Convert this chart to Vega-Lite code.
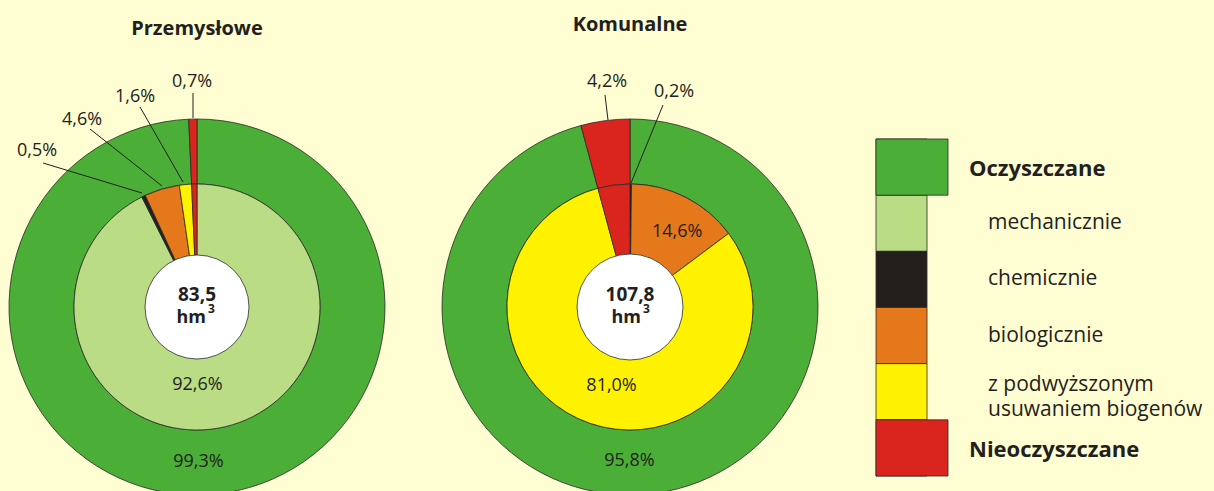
{
  "$schema": "https://vega.github.io/schema/vega-lite/v6.json",
  "background": "#FFFDD2",
  "padding": 0,
  "spacing": 0,
  "bounds": "flush",
  "config": {
    "view": {"stroke": null},
    "font": "Open Sans",
    "locale": {"number": {"decimal": ",", "thousands": " ", "grouping": [3], "currency": ["", " zł"]}}
  },
  "datasets": {
    "slices": [
      {"chart": "Przemysłowe", "ring": "outer", "category": "Oczyszczane", "value": 0.993, "ord": 1},
      {"chart": "Przemysłowe", "ring": "outer", "category": "Nieoczyszczane", "value": 0.007, "ord": 2},
      {"chart": "Przemysłowe", "ring": "inner", "category": "mechanicznie", "value": 0.926, "ord": 1},
      {"chart": "Przemysłowe", "ring": "inner", "category": "chemicznie", "value": 0.005, "ord": 2},
      {"chart": "Przemysłowe", "ring": "inner", "category": "biologicznie", "value": 0.046, "ord": 3},
      {"chart": "Przemysłowe", "ring": "inner", "category": "z podwyższonym usuwaniem biogenów", "value": 0.016, "ord": 4},
      {"chart": "Przemysłowe", "ring": "inner", "category": "Nieoczyszczane", "value": 0.007, "ord": 5},
      {"chart": "Komunalne", "ring": "outer", "category": "Oczyszczane", "value": 0.958, "ord": 1},
      {"chart": "Komunalne", "ring": "outer", "category": "Nieoczyszczane", "value": 0.042, "ord": 2},
      {"chart": "Komunalne", "ring": "inner", "category": "chemicznie", "value": 0.002, "ord": 2},
      {"chart": "Komunalne", "ring": "inner", "category": "biologicznie", "value": 0.146, "ord": 3},
      {"chart": "Komunalne", "ring": "inner", "category": "z podwyższonym usuwaniem biogenów", "value": 0.81, "ord": 4},
      {"chart": "Komunalne", "ring": "inner", "category": "Nieoczyszczane", "value": 0.042, "ord": 5}
    ],
    "centers": [
      {"chart": "Przemysłowe", "total": 83.5},
      {"chart": "Komunalne", "total": 107.8}
    ],
    "callouts": [
      {"chart": "Przemysłowe", "value": 0.007, "tx": -5, "ty": 225, "x1": -4, "y1": 214, "x2": -4, "y2": 189},
      {"chart": "Przemysłowe", "value": 0.016, "tx": -62, "ty": 210, "x1": -57, "y1": 200, "x2": -14, "y2": 125},
      {"chart": "Przemysłowe", "value": 0.046, "tx": -115, "ty": 187, "x1": -107, "y1": 178, "x2": -35, "y2": 121},
      {"chart": "Przemysłowe", "value": 0.005, "tx": -160, "ty": 156, "x1": -154, "y1": 144, "x2": -55, "y2": 114},
      {"chart": "Komunalne", "value": 0.042, "tx": -23, "ty": 225, "x1": -25, "y1": 212, "x2": -22, "y2": 187},
      {"chart": "Komunalne", "value": 0.002, "tx": 44, "ty": 215, "x1": 33, "y1": 202, "x2": 1, "y2": 124}
    ],
    "legend": [
      {"category": "Oczyszczane", "label": "Oczyszczane", "level": "main"},
      {"category": "mechanicznie", "label": "mechanicznie", "level": "sub"},
      {"category": "chemicznie", "label": "chemicznie", "level": "sub"},
      {"category": "biologicznie", "label": "biologicznie", "level": "sub"},
      {"category": "z podwyższonym usuwaniem biogenów", "label": "z podwyższonym\nusuwaniem biogenów", "level": "sub2"},
      {"category": "Nieoczyszczane", "label": "Nieoczyszczane", "level": "main"}
    ]
  },
  "hconcat": [
    {
      "width": 394,
      "height": 491,
      "layer": [
        {
          "data": {"name": "slices"},
          "transform": [{"filter": "datum.chart == 'Przemysłowe' && datum.ring == 'outer'"}],
          "mark": {"type": "arc", "innerRadius": 123, "outerRadius": 188, "stroke": "#2a2a2a", "strokeWidth": 0.8},
          "encoding": {
            "x": {"datum": 0, "type": "quantitative", "scale": {"domain": [-197, 197], "nice": false, "zero": false}, "axis": null},
            "y": {"datum": 0, "type": "quantitative", "scale": {"domain": [-184, 307], "nice": false, "zero": false}, "axis": null},
            "theta": {"field": "value", "type": "quantitative", "stack": true},
            "order": {"field": "ord"},
            "color": {"field": "category", "type": "nominal", "legend": null,
              "scale": {"domain": ["Oczyszczane", "mechanicznie", "chemicznie", "biologicznie", "z podwyższonym usuwaniem biogenów", "Nieoczyszczane"],
                        "range": ["#4BAE37", "#B9DC85", "#231F1D", "#E5781A", "#FFF200", "#DA251E"]}}
          }
        },
        {
          "data": {"name": "slices"},
          "transform": [{"filter": "datum.chart == 'Przemysłowe' && datum.ring == 'inner'"}],
          "mark": {"type": "arc", "innerRadius": 40, "outerRadius": 123, "stroke": "#2a2a2a", "strokeWidth": 0.8},
          "encoding": {
            "x": {"datum": 0, "type": "quantitative"},
            "y": {"datum": 0, "type": "quantitative"},
            "theta": {"field": "value", "type": "quantitative", "stack": true},
            "order": {"field": "ord"},
            "color": {"field": "category", "type": "nominal", "legend": null}
          }
        },
        {
          "data": {"name": "centers"},
          "transform": [{"filter": "datum.chart == 'Przemysłowe'"}],
          "mark": {"type": "arc", "innerRadius": 0, "outerRadius": 52, "theta": 0, "theta2": 6.2832, "fill": "#FFFFFF", "stroke": "#2a2a2a", "strokeWidth": 0.8},
          "encoding": {
            "x": {"datum": 0, "type": "quantitative"},
            "y": {"datum": 0, "type": "quantitative"}
          }
        },
        {
          "data": {"name": "slices"},
          "transform": [{"filter": "datum.chart == 'Przemysłowe' && datum.ring == 'outer'"}],
          "mark": {"type": "text", "radius": 155, "fontSize": 18, "fill": "#231F20", "dx": -2},
          "encoding": {
            "x": {"datum": 0, "type": "quantitative"},
            "y": {"datum": 0, "type": "quantitative"},
            "theta": {"field": "value", "type": "quantitative", "stack": true},
            "order": {"field": "ord"},
            "text": {"condition": {"test": "datum.value > 0.1", "field": "value", "type": "quantitative", "format": ".1%"}, "value": ""}
          }
        },
        {
          "data": {"name": "slices"},
          "transform": [{"filter": "datum.chart == 'Przemysłowe' && datum.ring == 'inner'"}],
          "mark": {"type": "text", "radius": 80, "fontSize": 18, "fill": "#231F20", "dx": -18},
          "encoding": {
            "x": {"datum": 0, "type": "quantitative"},
            "y": {"datum": 0, "type": "quantitative"},
            "theta": {"field": "value", "type": "quantitative", "stack": true},
            "order": {"field": "ord"},
            "text": {"condition": {"test": "datum.value > 0.1", "field": "value", "type": "quantitative", "format": ".1%"}, "value": ""}
          }
        },
        {
          "data": {"name": "callouts"},
          "transform": [{"filter": "datum.chart == 'Przemysłowe'"}],
          "mark": {"type": "rule", "stroke": "#231F20", "strokeWidth": 1},
          "encoding": {
            "x": {"field": "x1", "type": "quantitative"},
            "y": {"field": "y1", "type": "quantitative"},
            "x2": {"field": "x2"},
            "y2": {"field": "y2"}
          }
        },
        {
          "data": {"name": "callouts"},
          "transform": [{"filter": "datum.chart == 'Przemysłowe'"}],
          "mark": {"type": "text", "fontSize": 18, "fill": "#231F20", "baseline": "middle"},
          "encoding": {
            "x": {"field": "tx", "type": "quantitative"},
            "y": {"field": "ty", "type": "quantitative"},
            "text": {"field": "value", "type": "quantitative", "format": ".1%"}
          }
        },
        {
          "data": {"name": "centers"},
          "transform": [{"filter": "datum.chart == 'Przemysłowe'"}],
          "mark": {"type": "text", "fontSize": 20, "fontWeight": "bold", "fill": "#231F20", "baseline": "middle"},
          "encoding": {
            "x": {"datum": 0, "type": "quantitative"},
            "y": {"datum": 278, "type": "quantitative"},
            "text": {"field": "chart"}
          }
        },
        {
          "data": {"name": "centers"},
          "transform": [{"filter": "datum.chart == 'Przemysłowe'"}],
          "mark": {"type": "text", "fontSize": 19, "fontWeight": "bold", "fill": "#231F20", "baseline": "middle"},
          "encoding": {
            "x": {"datum": 0, "type": "quantitative"},
            "y": {"datum": 12.5, "type": "quantitative"},
            "text": {"field": "total", "type": "quantitative", "format": ".1f"}
          }
        },
        {
          "data": {"name": "centers"},
          "transform": [{"filter": "datum.chart == 'Przemysłowe'"}],
          "mark": {"type": "text", "fontSize": 18, "fontWeight": "bold", "fill": "#231F20", "baseline": "middle", "align": "right"},
          "encoding": {
            "x": {"datum": 9, "type": "quantitative"},
            "y": {"datum": -11, "type": "quantitative"},
            "text": {"value": "hm"}
          }
        },
        {
          "data": {"name": "centers"},
          "transform": [{"filter": "datum.chart == 'Przemysłowe'"}],
          "mark": {"type": "text", "fontSize": 12, "fontWeight": "bold", "fill": "#231F20", "baseline": "middle", "align": "left"},
          "encoding": {
            "x": {"datum": 11, "type": "quantitative"},
            "y": {"datum": -2, "type": "quantitative"},
            "text": {"value": "3"}
          }
        }
      ]
    },
    {
      "width": 472,
      "height": 491,
      "layer": [
        {
          "data": {"name": "slices"},
          "transform": [{"filter": "datum.chart == 'Komunalne' && datum.ring == 'outer'"}],
          "mark": {"type": "arc", "innerRadius": 123, "outerRadius": 188, "stroke": "#2a2a2a", "strokeWidth": 0.8},
          "encoding": {
            "x": {"datum": 0, "type": "quantitative", "scale": {"domain": [-236, 236], "nice": false, "zero": false}, "axis": null},
            "y": {"datum": 0, "type": "quantitative", "scale": {"domain": [-184, 307], "nice": false, "zero": false}, "axis": null},
            "theta": {"field": "value", "type": "quantitative", "stack": true},
            "order": {"field": "ord"},
            "color": {"field": "category", "type": "nominal", "legend": null,
              "scale": {"domain": ["Oczyszczane", "mechanicznie", "chemicznie", "biologicznie", "z podwyższonym usuwaniem biogenów", "Nieoczyszczane"],
                        "range": ["#4BAE37", "#B9DC85", "#231F1D", "#E5781A", "#FFF200", "#DA251E"]}}
          }
        },
        {
          "data": {"name": "slices"},
          "transform": [{"filter": "datum.chart == 'Komunalne' && datum.ring == 'inner'"}],
          "mark": {"type": "arc", "innerRadius": 40, "outerRadius": 123, "stroke": "#2a2a2a", "strokeWidth": 0.8},
          "encoding": {
            "x": {"datum": 0, "type": "quantitative"},
            "y": {"datum": 0, "type": "quantitative"},
            "theta": {"field": "value", "type": "quantitative", "stack": true},
            "order": {"field": "ord"},
            "color": {"field": "category", "type": "nominal", "legend": null}
          }
        },
        {
          "data": {"name": "centers"},
          "transform": [{"filter": "datum.chart == 'Komunalne'"}],
          "mark": {"type": "arc", "innerRadius": 0, "outerRadius": 53, "theta": 0, "theta2": 6.2832, "fill": "#FFFFFF", "stroke": "#2a2a2a", "strokeWidth": 0.8},
          "encoding": {
            "x": {"datum": 0, "type": "quantitative"},
            "y": {"datum": 0, "type": "quantitative"}
          }
        },
        {
          "data": {"name": "slices"},
          "transform": [{"filter": "datum.chart == 'Komunalne' && datum.ring == 'outer'"}],
          "mark": {"type": "text", "radius": 155, "fontSize": 18, "fill": "#231F20", "dx": -21},
          "encoding": {
            "x": {"datum": 0, "type": "quantitative"},
            "y": {"datum": 0, "type": "quantitative"},
            "theta": {"field": "value", "type": "quantitative", "stack": true},
            "order": {"field": "ord"},
            "text": {"condition": {"test": "datum.value > 0.1", "field": "value", "type": "quantitative", "format": ".1%"}, "value": ""}
          }
        },
        {
          "data": {"name": "slices"},
          "transform": [{"filter": "datum.chart == 'Komunalne' && datum.ring == 'inner'"}],
          "mark": {"type": "text", "radius": 84, "fontSize": 18, "fill": "#231F20", "dx": 9},
          "encoding": {
            "x": {"datum": 0, "type": "quantitative"},
            "y": {"datum": 0, "type": "quantitative"},
            "theta": {"field": "value", "type": "quantitative", "stack": true},
            "order": {"field": "ord"},
            "text": {"condition": {"test": "datum.value > 0.1", "field": "value", "type": "quantitative", "format": ".1%"}, "value": ""}
          }
        },
        {
          "data": {"name": "callouts"},
          "transform": [{"filter": "datum.chart == 'Komunalne'"}],
          "mark": {"type": "rule", "stroke": "#231F20", "strokeWidth": 1},
          "encoding": {
            "x": {"field": "x1", "type": "quantitative"},
            "y": {"field": "y1", "type": "quantitative"},
            "x2": {"field": "x2"},
            "y2": {"field": "y2"}
          }
        },
        {
          "data": {"name": "callouts"},
          "transform": [{"filter": "datum.chart == 'Komunalne'"}],
          "mark": {"type": "text", "fontSize": 18, "fill": "#231F20", "baseline": "middle"},
          "encoding": {
            "x": {"field": "tx", "type": "quantitative"},
            "y": {"field": "ty", "type": "quantitative"},
            "text": {"field": "value", "type": "quantitative", "format": ".1%"}
          }
        },
        {
          "data": {"name": "centers"},
          "transform": [{"filter": "datum.chart == 'Komunalne'"}],
          "mark": {"type": "text", "fontSize": 20, "fontWeight": "bold", "fill": "#231F20", "baseline": "middle"},
          "encoding": {
            "x": {"datum": 0, "type": "quantitative"},
            "y": {"datum": 282, "type": "quantitative"},
            "text": {"field": "chart"}
          }
        },
        {
          "data": {"name": "centers"},
          "transform": [{"filter": "datum.chart == 'Komunalne'"}],
          "mark": {"type": "text", "fontSize": 19, "fontWeight": "bold", "fill": "#231F20", "baseline": "middle"},
          "encoding": {
            "x": {"datum": 0, "type": "quantitative"},
            "y": {"datum": 12.5, "type": "quantitative"},
            "text": {"field": "total", "type": "quantitative", "format": ".1f"}
          }
        },
        {
          "data": {"name": "centers"},
          "transform": [{"filter": "datum.chart == 'Komunalne'"}],
          "mark": {"type": "text", "fontSize": 18, "fontWeight": "bold", "fill": "#231F20", "baseline": "middle", "align": "right"},
          "encoding": {
            "x": {"datum": 11, "type": "quantitative"},
            "y": {"datum": -11, "type": "quantitative"},
            "text": {"value": "hm"}
          }
        },
        {
          "data": {"name": "centers"},
          "transform": [{"filter": "datum.chart == 'Komunalne'"}],
          "mark": {"type": "text", "fontSize": 12, "fontWeight": "bold", "fill": "#231F20", "baseline": "middle", "align": "left"},
          "encoding": {
            "x": {"datum": 13, "type": "quantitative"},
            "y": {"datum": -2, "type": "quantitative"},
            "text": {"value": "3"}
          }
        }
      ]
    },
    {
      "width": 348,
      "height": 491,
      "data": {"name": "legend"},
      "layer": [
        {
          "mark": {"type": "rect", "stroke": "#2a2a2a", "strokeWidth": 0.8},
          "encoding": {
            "y": {"field": "category", "type": "ordinal", "axis": null,
              "scale": {"domain": ["Oczyszczane", "mechanicznie", "chemicznie", "biologicznie", "z podwyższonym usuwaniem biogenów", "Nieoczyszczane"],
                        "range": [139, 476], "paddingInner": 0, "paddingOuter": 0}},
            "x": {"datum": 10, "type": "quantitative", "scale": {"domain": [0, 348], "nice": false, "zero": false}, "axis": null},
            "x2": {"datum": 61},
            "color": {"field": "category", "type": "nominal", "legend": null,
              "scale": {"domain": ["Oczyszczane", "mechanicznie", "chemicznie", "biologicznie", "z podwyższonym usuwaniem biogenów", "Nieoczyszczane"],
                        "range": ["#4BAE37", "#B9DC85", "#231F1D", "#E5781A", "#FFF200", "#DA251E"]}}
          }
        },
        {
          "transform": [{"filter": "datum.level == 'main'"}],
          "mark": {"type": "rect", "stroke": "#2a2a2a", "strokeWidth": 0.8},
          "encoding": {
            "y": {"field": "category", "type": "ordinal"},
            "x": {"datum": 10, "type": "quantitative"},
            "x2": {"datum": 82},
            "color": {"field": "category", "type": "nominal", "legend": null}
          }
        },
        {
          "transform": [{"filter": "datum.level == 'main'"}],
          "mark": {"type": "text", "align": "left", "baseline": "middle", "fontSize": 22, "fontWeight": "bold", "fill": "#231F20", "dy": 2},
          "encoding": {
            "y": {"field": "category", "type": "ordinal"},
            "x": {"datum": 103, "type": "quantitative"},
            "text": {"field": "label"}
          }
        },
        {
          "transform": [{"filter": "datum.level == 'sub'"}],
          "mark": {"type": "text", "align": "left", "baseline": "middle", "fontSize": 21, "fill": "#231F20"},
          "encoding": {
            "y": {"field": "category", "type": "ordinal"},
            "x": {"datum": 122, "type": "quantitative"},
            "text": {"field": "label"}
          }
        },
        {
          "transform": [{"filter": "datum.level == 'sub2'"}],
          "mark": {"type": "text", "align": "left", "baseline": "middle", "fontSize": 21, "fill": "#231F20", "lineBreak": "\n", "lineHeight": 25, "dy": -7},
          "encoding": {
            "y": {"field": "category", "type": "ordinal"},
            "x": {"datum": 122, "type": "quantitative"},
            "text": {"field": "label"}
          }
        }
      ]
    }
  ]
}
